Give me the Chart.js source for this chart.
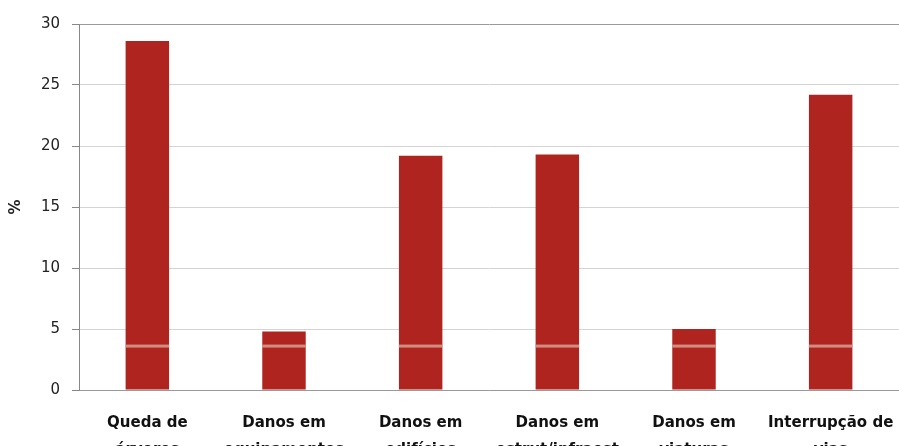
<!DOCTYPE html>
<html><head><meta charset="utf-8">
<script src="https://cdn.jsdelivr.net/npm/chart.js@4"></script>
<style>html,body{margin:0;padding:0;background:#fff}#wrap{width:899px;height:446px}</style>
</head><body><div id="wrap"><canvas id="c"></canvas></div>
<script>
const categories = [["Queda de","árvores"],["Danos em","equipamentos"],["Danos em","edifícios"],["Danos em","estrut/infraest"],["Danos em","viaturas"],["Interrupção de","vias"]];
const values = [28.6, 4.8, 19.2, 19.3, 5.0, 24.2];
const yTicks = [0,5,10,15,20,25,30];
const bandValue = 3.6;

const bandPlugin = {
  id:'band',
  afterDatasetsDraw(chart){
    const ctx = chart.ctx, ys = chart.scales.y;
    const y = ys.getPixelForValue(bandValue);
    ctx.save();
    ctx.fillStyle = 'rgba(215,160,145,0.85)';
    chart.getDatasetMeta(0).data.forEach(b=>{
      ctx.fillRect(b.x - b.width/2, y-1.5, b.width, 3);
    });
    ctx.restore();
  }
};

new Chart(document.getElementById('c'), {
  type:'bar',
  data:{labels:categories, datasets:[{data:values, backgroundColor:'#b02420', borderWidth:0, barPercentage:0.318, categoryPercentage:1}]},
  options:{
    responsive:true, maintainAspectRatio:false, animation:false,
    layout:{padding:{top:24,right:0,bottom:0,left:0}},
    plugins:{legend:{display:false}, tooltip:{enabled:false}},
    scales:{
      x:{
        grid:{display:false},
        border:{display:true,color:'#999'},
        ticks:{color:'#111', padding:12, maxRotation:0, autoSkip:false, font:{family:'DejaVu Sans', size:15, weight:'bold', lineHeight:1.8}},
        afterFit(s){s.height=56; s.paddingRight=0; s.paddingLeft=0;}
      },
      y:{
        min:0,max:30,
        afterBuildTicks(s){s.ticks = yTicks.map(v=>({value:v}));},
        grid:{color:(c)=>c.tick && c.tick.value===30?'#9a9a9a':'#d4d4d4', tickColor:'#888', tickLength:7},
        border:{display:true,color:'#888'},
        ticks:{color:'#222', padding:12, font:{family:'DejaVu Sans', size:15}},
        title:{display:true, text:'%', color:'#222', padding:{top:7,bottom:0}, font:{family:'DejaVu Sans', size:15, weight:'bold'}},
        afterFit(s){s.width=79;}
      }
    }
  },
  plugins:[bandPlugin]
});
</script></body></html>
